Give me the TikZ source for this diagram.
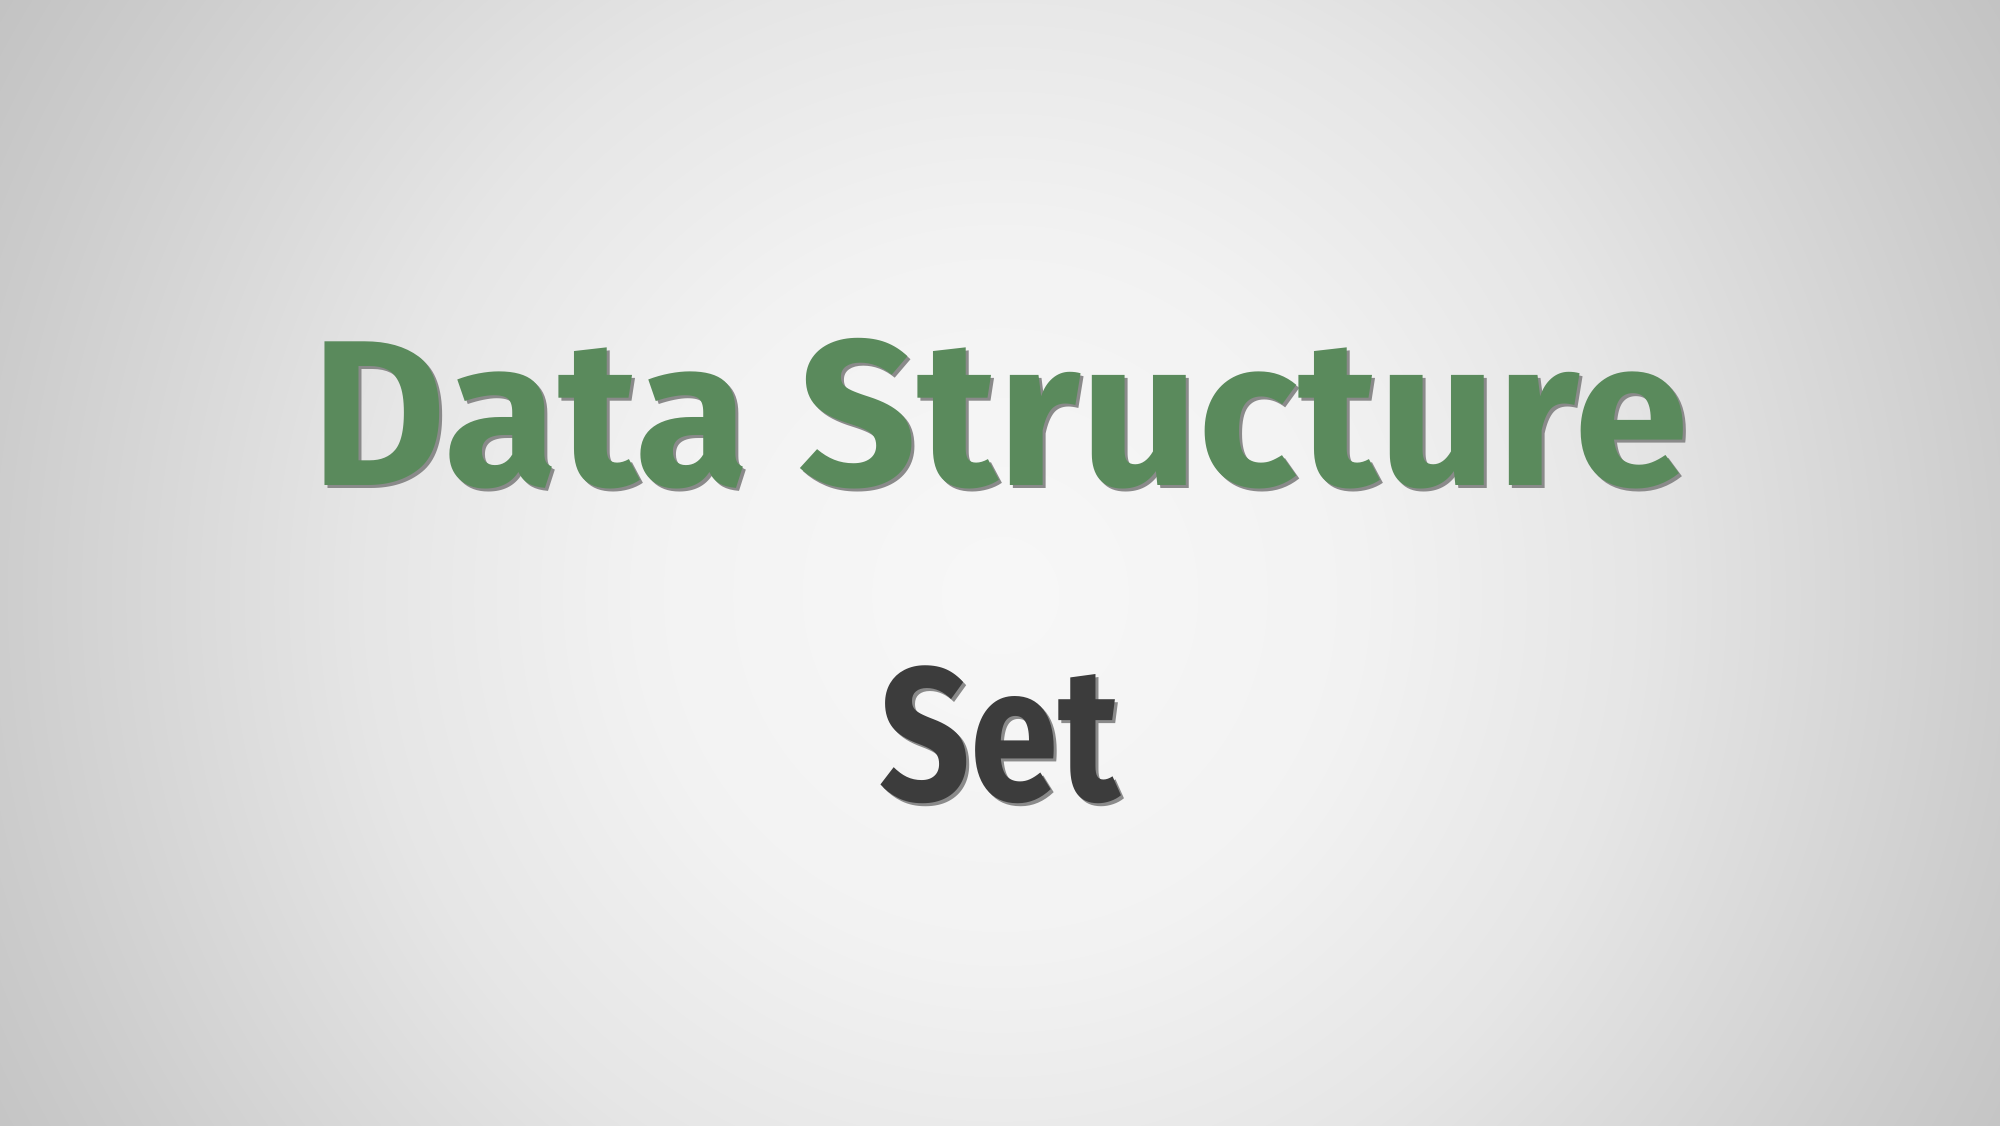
\documentclass[tikz,border=0pt]{standalone}
\usepackage{fontspec}
\setmainfont{Fira Sans}
\usetikzlibrary{positioning}

\definecolor{titlegreen}{HTML}{5A8A5C}
\definecolor{setgray}{HTML}{3C3C3C}
\definecolor{dropgray}{HTML}{8A8A8A}
\pgfdeclareradialshading{slidebg}{\pgfpoint{0bp}{0bp}}{%
  color(0bp)=(white!97!black);
  color(7.5bp)=(white!95!black);
  color(13.5bp)=(white!90!black);
  color(21.5bp)=(white!80!black);
  color(25bp)=(white!76!black);
  color(50bp)=(white!76!black)}

\tikzset{
  titletext/.style={anchor=base, inner sep=0pt, font=\fontsize{59}{60}\selectfont\bfseries},
  settext/.style={anchor=base, inner sep=0pt, xscale=0.84, transform shape, font=\fontsize{54}{55}\selectfont\bfseries},
}

\begin{document}
\begin{tikzpicture}
\useasboundingbox (0,0) rectangle (20,11.25);
\begin{scope}
\clip (0,0) rectangle (20,11.25);
\fill[white!76!black] (0,0) rectangle (20,11.25);
\shade[shading=slidebg] (10,5.3) circle (11.8);
\end{scope}
% title with its drop shadow
\node[titletext, text=dropgray] (titleshadow) at (10.03,6.37) {Data Structure};
\node[titletext, text=titlegreen] (title) at (10,6.40) {Data Structure};
% subtitle
\node[settext, text=dropgray] (setshadow) at (10.03,3.22) {Set};
\node[settext, text=setgray] (set) at (10,3.25) {Set};
\end{tikzpicture}
\end{document}
